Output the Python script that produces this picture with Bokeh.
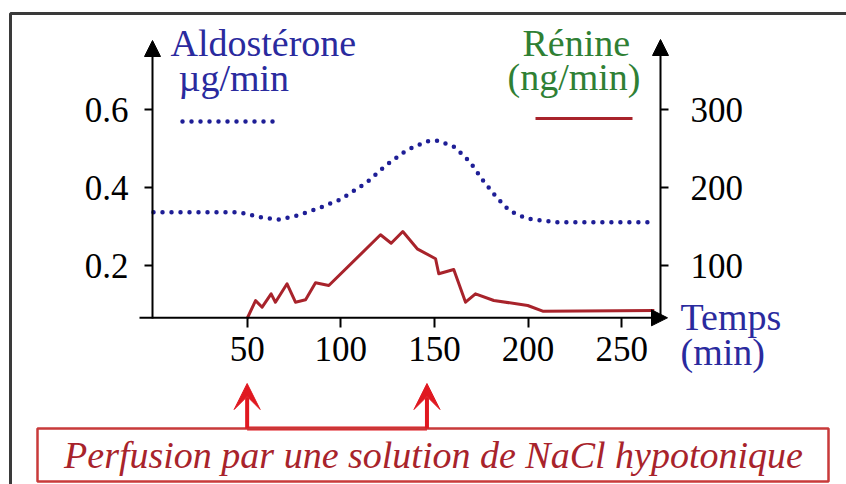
from bokeh.plotting import figure
from bokeh.models import (Range1d, LinearAxis, FixedTicker, Label, Arrow,
                          NormalHead, VeeHead, BoxAnnotation)
from bokeh.embed import file_html
from bokeh.resources import INLINE

# ---------------- data ----------------
aldo_t = [0, 46, 57, 67, 77, 88, 100, 114, 124, 135, 146, 152, 161, 169, 176, 183, 190, 199, 215, 268]
aldo_v = [0.337, 0.337, 0.324, 0.318, 0.329, 0.347, 0.370, 0.414, 0.457, 0.496, 0.519, 0.521,
          0.504, 0.466, 0.418, 0.376, 0.341, 0.321, 0.311, 0.311]

renin_t = [50, 54.5, 58, 62.8, 65.1, 71.3, 75.8, 81.2, 86.5, 93.6, 121.2, 126.9, 133.1,
           140.8, 150.6, 152.3, 160.3, 166.6, 171.9, 181.7, 199.8, 207.8, 267.4]
renin_v = [32, 55, 46.5, 63.7, 52.9, 76.6, 52.9, 56, 77.8, 74.4, 139.5, 128.7, 143.7,
           121.5, 108.7, 89.4, 94.9, 52.9, 63.7, 55.1, 48.7, 41.4, 42.3]

x_ticks = [50, 100, 150, 200, 250]
left_ticks = [0.2, 0.4, 0.6]
right_ticks = [100, 200, 300]
perfusion_start, perfusion_end = 50, 146

title_left = ["Aldostérone", "µg/min"]
title_right = ["Rénine", "(ng/min)"]
x_title = ["Temps", "(min)"]
note = "Perfusion par une solution de NaCl hypotonique"

# ---------------- geometry helpers (pixel -> data) ----------------
W, H = 846, 484
X0, SX = 153.0, 1.873
Y0, SY = 342.9, 389.25
RATIO = 500.0


def tx(px):
    return (px - X0) / SX


def vy(py):
    return (Y0 - py) / SY


SERIF = "Liberation Serif"
BLUE = "#2a2a9e"
DOT = "#1e1e96"
GREEN = "#2f8034"
DARKRED = "#a8232b"
RED = "#e01820"

p = figure(width=W, height=H, x_range=Range1d(tx(0), tx(W)), y_range=Range1d(vy(H), vy(0)),
           x_axis_type=None, y_axis_type=None, toolbar_location=None,
           output_backend="svg", min_border=0, outline_line_color=None,
           background_fill_color="white", border_fill_color="white")
p.extra_y_ranges = {"r": Range1d(vy(H) * RATIO, vy(0) * RATIO)}


def style_axis(ax, out):
    ax.axis_line_color = None
    ax.major_tick_line_color = "black"
    ax.major_tick_line_width = 2
    ax.major_tick_out = out
    ax.major_tick_in = 0
    ax.minor_tick_line_color = None
    ax.major_label_text_font = SERIF
    ax.major_label_text_font_size = "35px"
    ax.major_label_text_color = "black"


xax = LinearAxis(ticker=FixedTicker(ticks=x_ticks), fixed_location=vy(317.3))
style_axis(xax, 10)
xax.major_label_standoff = 9
p.add_layout(xax, "below")

lax = LinearAxis(ticker=FixedTicker(ticks=left_ticks), fixed_location=tx(152))
style_axis(lax, 8)
lax.major_label_standoff = 16
p.add_layout(lax, "left")

rax = LinearAxis(ticker=FixedTicker(ticks=right_ticks), y_range_name="r", fixed_location=tx(660))
style_axis(rax, 8)
rax.major_label_standoff = 22
p.add_layout(rax, "right")

# axis lines with arrow heads
for xs, ys, xe, ye in [(152, 318, 152, 40), (660, 318, 660, 39), (139, 317.3, 667, 317.3)]:
    p.add_layout(Arrow(x_start=tx(xs), y_start=vy(ys), x_end=tx(xe), y_end=vy(ye),
                       line_color="black", line_width=2,
                       end=NormalHead(size=16, fill_color="black", line_color="black", line_width=1)))

# data series
p.line(aldo_t, aldo_v, line_color=DOT, line_width=4.5, line_dash="0 9", line_cap="round")
p.line(renin_t, renin_v, y_range_name="r", line_color=DARKRED, line_width=3, line_join="round")

# legend keys
p.line([tx(182), tx(280)], [vy(121), vy(121)], line_color=DOT, line_width=4.5,
       line_dash="0 9", line_cap="round")
p.line([tx(535), tx(632)], [vy(118), vy(118)], line_color=DARKRED, line_width=3)


# titles
def lab(px, py, text, color, size="38px", align="left", style="normal"):
    p.add_layout(Label(x=tx(px), y=vy(py), text=text, text_font=SERIF, text_font_size=size,
                       text_color=color, text_align=align, text_baseline="alphabetic",
                       text_font_style=style))


lab(170, 42, title_left[0], BLUE)
lab(178, 77, title_left[1], BLUE)
lab(522, 42, title_right[0], GREEN)
lab(507, 76, title_right[1], GREEN)
lab(680, 316, x_title[0], BLUE)
lab(680, 351, x_title[1], BLUE)

# outer frame (top and left edges visible)
p.line([tx(10), tx(10), tx(900)], [vy(600), vy(13), vy(13)], line_color="#3a3a3a", line_width=3)

# perfusion annotation
p.add_layout(BoxAnnotation(left=tx(37), right=tx(828), top=vy(428), bottom=vy(481),
                           fill_color=None, fill_alpha=0, line_color="#c83a3a",
                           line_alpha=1, line_width=2.5))
p.line([perfusion_start, perfusion_end], [vy(428), vy(428)], line_color=RED, line_width=4)
for t in (perfusion_start, perfusion_end):
    p.add_layout(Arrow(x_start=t, y_start=vy(428), x_end=t, y_end=vy(383),
                       line_color=RED, line_width=4,
                       end=VeeHead(size=26, fill_color=RED, line_color=RED, line_width=1)))
lab(433, 454, note, DARKRED, size="38px", align="center", style="italic")

open("out.html", "w").write(file_html(p, INLINE))
